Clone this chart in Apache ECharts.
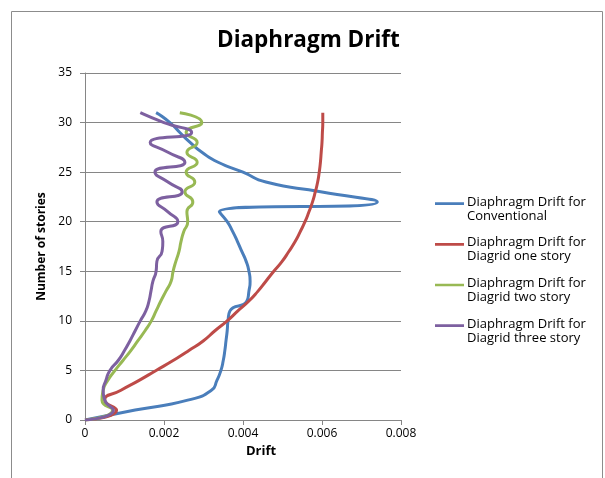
<!DOCTYPE html>
<html>
<head>
<meta charset="utf-8">
<script src="https://cdn.jsdelivr.net/npm/echarts@6/dist/echarts.min.js"></script>
<style>
html,body{margin:0;padding:0;background:#fff;}
#chart{width:605px;height:478px;}
</style>
</head>
<body>
<div id="chart"></div>
<script>
var stories = [0,1,2,3,4,5,6,7,8,9,10,11,12,13,14,15,16,17,18,19,20,21,22,23,24,25,26,27,28,29,30,31];
var conventional = [0,0.00127,0.0026,0.0032,0.00334,0.00344,0.0035,0.00354,0.00357,0.0036,0.00362,0.00367,0.0041,0.00415,0.00418,0.00415,0.00408,0.00397,0.00386,0.00374,0.0036,0.0034,0.0074,0.006,0.00458,0.004,0.00337,0.00296,0.00266,0.0024,0.00215,0.0018];
var diagridOne = [0,0.0008,0.0005,0.00091,0.00137,0.0018,0.00223,0.00263,0.003,0.00329,0.0036,0.00387,0.00415,0.00438,0.00458,0.00478,0.00499,0.00516,0.00532,0.00545,0.00557,0.00567,0.00576,0.00583,0.00589,0.00593,0.00596,0.00598,0.006,0.00601,0.00602,0.00602];
var diagridTwo = [0,0.0007,0.00043,0.00046,0.00058,0.00076,0.00096,0.00116,0.00134,0.00152,0.00168,0.0018,0.00192,0.00205,0.00218,0.00223,0.0023,0.00238,0.00243,0.0025,0.0026,0.00258,0.00273,0.00253,0.00278,0.00256,0.00284,0.00258,0.00284,0.00256,0.00296,0.0024];
var diagridThree = [0,0.00072,0.0005,0.00046,0.00053,0.00063,0.00084,0.001,0.00114,0.00127,0.0014,0.00154,0.00162,0.00167,0.00172,0.0018,0.00182,0.00195,0.00197,0.00192,0.00235,0.0021,0.00182,0.00246,0.0021,0.00177,0.00253,0.0021,0.00165,0.0027,0.002,0.0014];
var seriesNames = ['Diaphragm Drift for\nConventional','Diaphragm Drift for\nDiagrid one story','Diaphragm Drift for\nDiagrid two story','Diaphragm Drift for\nDiagrid three story'];
var seriesColors = ['#4a7ebb','#be4b48','#98b954','#7d60a0'];
var xTicks = [0,0.002,0.004,0.006,0.008];
var yTicks = [0,5,10,15,20,25,30,35];

function pairs(vals){ return vals.map(function(v,i){ return [v, stories[i]]; }); }
var allData = [conventional, diagridOne, diagridTwo, diagridThree];
var FONT = 'Open Sans';

var chart = echarts.init(document.getElementById('chart'), null, {renderer:'canvas'});
chart.setOption({
  animation:false,
  backgroundColor:'#fff',
  title:{text:'Diaphragm Drift', left:217, top:29, padding:0,
    textStyle:{fontFamily:FONT, fontSize:22.5, fontWeight:'bold', color:'#000'}},
  grid:{left:85, top:73, width:316, height:347, containLabel:false, outerBoundsMode:'none'},
  legend:{orient:'vertical', left:435, top:195, padding:0, itemWidth:29, itemHeight:14, itemGap:12.7,
    icon:'path://M0,0L30,0L30,2.8L0,2.8Z M0,14L30,14',
    itemStyle:{borderWidth:0},
    textStyle:{fontFamily:FONT, fontSize:13, lineHeight:14, color:'#000', padding:[0,0,0,-2]},
    data:seriesNames},
  xAxis:{type:'value', min:xTicks[0], max:xTicks[xTicks.length-1], interval:0.002,
    name:'Drift', nameLocation:'middle', nameGap:16,
    nameTextStyle:{fontFamily:FONT, fontSize:13, fontWeight:'bold', color:'#000', padding:[0,0,0,36]},
    axisLine:{show:true, lineStyle:{color:'#868686', width:1}},
    axisTick:{show:true, inside:false, length:5, lineStyle:{color:'#868686'}},
    axisLabel:{fontFamily:FONT, fontSize:12, color:'#000', margin:8,
      formatter:function(v){ return String(+v.toFixed(3)); }},
    splitLine:{show:false}},
  yAxis:{type:'value', min:yTicks[0], max:yTicks[yTicks.length-1], interval:5,
    name:'Number of stories', nameLocation:'middle', nameGap:35,
    nameTextStyle:{fontFamily:FONT, fontSize:12, fontWeight:'bold', color:'#000'},
    axisLine:{show:true, lineStyle:{color:'#868686', width:1}},
    axisTick:{show:true, inside:false, length:5, lineStyle:{color:'#868686'}},
    axisLabel:{fontFamily:FONT, fontSize:12, color:'#000', margin:13},
    splitLine:{show:true, lineStyle:{color:'#868686', width:1}}},
  graphic:[{type:'rect', shape:{x:11.5, y:11.5, width:591, height:480},
    style:{fill:'none', stroke:'#8c8c8c', lineWidth:1}, silent:true, z:-1}],
  series: allData.map(function(d,i){
    return {type:'line', name:seriesNames[i], data:pairs(d), smooth:0.6,
      showSymbol:false, symbol:'none', color:seriesColors[i],
      lineStyle:{width:3, color:seriesColors[i]}, itemStyle:{color:seriesColors[i]}, z:2+i};
  })
});
</script>
</body>
</html>
